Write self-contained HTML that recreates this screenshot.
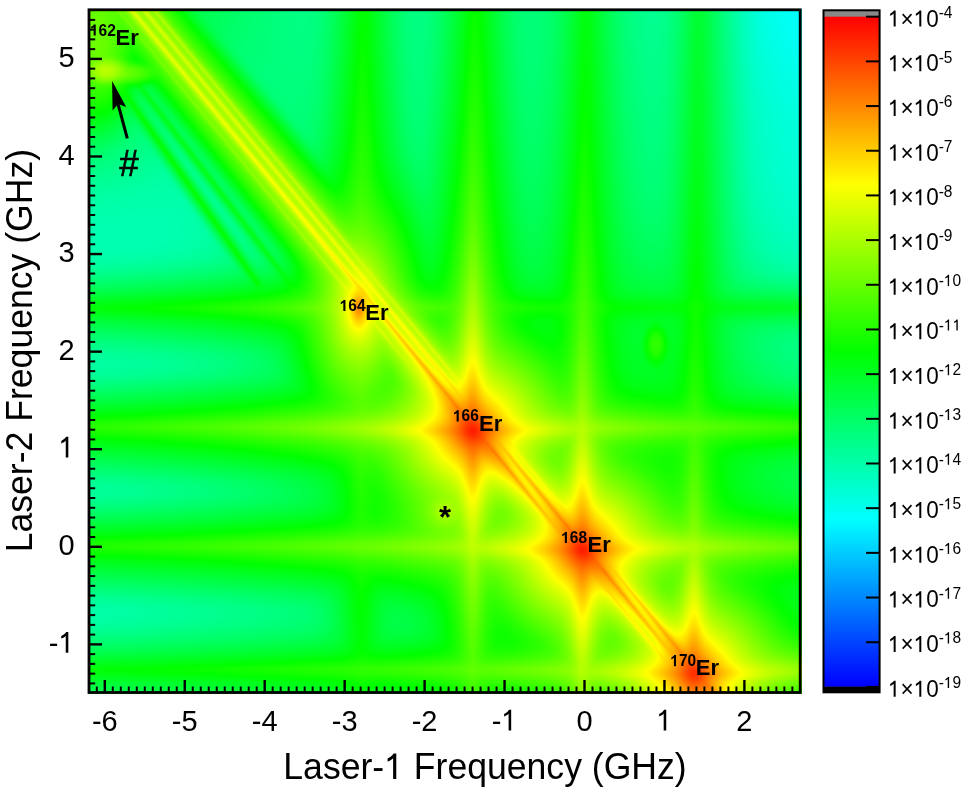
<!DOCTYPE html>
<html><head><meta charset="utf-8"><style>
html,body{margin:0;padding:0;background:#fff;width:968px;height:792px;overflow:hidden}
#hm{position:absolute;left:88px;top:9px;}
#fb{position:absolute;left:88px;top:9px;width:714px;height:685px;background:radial-gradient(circle at 385px 422px,#ff3000 0,#ff9000 18px,#ffff00 40px,rgba(160,255,0,0) 70px),radial-gradient(circle at 494px 541px,#ff3000 0,#ff9000 18px,#ffff00 40px,rgba(160,255,0,0) 70px),radial-gradient(circle at 606px 664px,#ff3000 0,#ff9000 16px,#ffff00 36px,rgba(160,255,0,0) 60px),radial-gradient(circle at 273px 302px,#ffa000 0,#ffff00 14px,rgba(160,255,0,0) 40px),linear-gradient(50deg,rgba(255,255,0,0) 46.5%,#ffd000 48.5%,rgba(255,255,0,0) 50.5%),radial-gradient(circle at 714px 0,#00ffff 0,rgba(0,255,160,0) 260px),radial-gradient(circle at 450px 560px,#80ff00 0,rgba(0,255,64,0) 300px),#00ff70;}
svg{position:absolute;left:0;top:0}
text{font-family:"Liberation Sans",sans-serif;fill:#000}
</style></head><body>
<div id="fb"></div><canvas id="hm" width="714" height="685"></canvas>
<svg width="968" height="792" viewBox="0 0 968 792">
<defs><linearGradient id="cbg" x1="0" y1="1" x2="0" y2="0">
<stop offset="0" stop-color="#0000ff"/><stop offset="0.25" stop-color="#00ffff"/><stop offset="0.5" stop-color="#00ff00"/><stop offset="0.75" stop-color="#ffff00"/><stop offset="1" stop-color="#ff0000"/>
</linearGradient></defs>
<rect x="823.5" y="11" width="56" height="6" fill="#888"/>
<rect x="823.5" y="16.7" width="56" height="670.2" fill="url(#cbg)"/>
<rect x="823.5" y="686.6" width="56" height="5.8" fill="#000"/>
<g stroke="#000"><line x1="866" y1="16.70" x2="879" y2="16.70" stroke-width="2"/><line x1="866" y1="61.38" x2="879" y2="61.38" stroke-width="2"/><line x1="866" y1="106.06" x2="879" y2="106.06" stroke-width="2"/><line x1="866" y1="150.74" x2="879" y2="150.74" stroke-width="2"/><line x1="866" y1="195.42" x2="879" y2="195.42" stroke-width="2"/><line x1="866" y1="240.10" x2="879" y2="240.10" stroke-width="2"/><line x1="866" y1="284.78" x2="879" y2="284.78" stroke-width="2"/><line x1="866" y1="329.46" x2="879" y2="329.46" stroke-width="2"/><line x1="866" y1="374.14" x2="879" y2="374.14" stroke-width="2"/><line x1="866" y1="418.82" x2="879" y2="418.82" stroke-width="2"/><line x1="866" y1="463.50" x2="879" y2="463.50" stroke-width="2"/><line x1="866" y1="508.18" x2="879" y2="508.18" stroke-width="2"/><line x1="866" y1="552.86" x2="879" y2="552.86" stroke-width="2"/><line x1="866" y1="597.54" x2="879" y2="597.54" stroke-width="2"/><line x1="866" y1="642.22" x2="879" y2="642.22" stroke-width="2"/><line x1="866" y1="686.90" x2="879" y2="686.90" stroke-width="2"/></g>
<rect x="823.5" y="10.3" width="56.1" height="682" fill="none" stroke="#000" stroke-width="2"/>
<g stroke="#000" fill="none"><line x1="96.81" y1="691.5" x2="96.81" y2="686.50" stroke-width="2"/><line x1="104.80" y1="691.5" x2="104.80" y2="680.00" stroke-width="2.4"/><line x1="112.79" y1="691.5" x2="112.79" y2="686.50" stroke-width="2"/><line x1="120.79" y1="691.5" x2="120.79" y2="686.50" stroke-width="2"/><line x1="128.78" y1="691.5" x2="128.78" y2="686.50" stroke-width="2"/><line x1="136.78" y1="691.5" x2="136.78" y2="686.50" stroke-width="2"/><line x1="144.78" y1="691.5" x2="144.78" y2="686.50" stroke-width="2"/><line x1="152.77" y1="691.5" x2="152.77" y2="686.50" stroke-width="2"/><line x1="160.77" y1="691.5" x2="160.77" y2="686.50" stroke-width="2"/><line x1="168.76" y1="691.5" x2="168.76" y2="686.50" stroke-width="2"/><line x1="176.76" y1="691.5" x2="176.76" y2="686.50" stroke-width="2"/><line x1="184.75" y1="691.5" x2="184.75" y2="680.00" stroke-width="2.4"/><line x1="192.74" y1="691.5" x2="192.74" y2="686.50" stroke-width="2"/><line x1="200.74" y1="691.5" x2="200.74" y2="686.50" stroke-width="2"/><line x1="208.73" y1="691.5" x2="208.73" y2="686.50" stroke-width="2"/><line x1="216.73" y1="691.5" x2="216.73" y2="686.50" stroke-width="2"/><line x1="224.73" y1="691.5" x2="224.73" y2="686.50" stroke-width="2"/><line x1="232.72" y1="691.5" x2="232.72" y2="686.50" stroke-width="2"/><line x1="240.72" y1="691.5" x2="240.72" y2="686.50" stroke-width="2"/><line x1="248.71" y1="691.5" x2="248.71" y2="686.50" stroke-width="2"/><line x1="256.71" y1="691.5" x2="256.71" y2="686.50" stroke-width="2"/><line x1="264.70" y1="691.5" x2="264.70" y2="680.00" stroke-width="2.4"/><line x1="272.69" y1="691.5" x2="272.69" y2="686.50" stroke-width="2"/><line x1="280.69" y1="691.5" x2="280.69" y2="686.50" stroke-width="2"/><line x1="288.69" y1="691.5" x2="288.69" y2="686.50" stroke-width="2"/><line x1="296.68" y1="691.5" x2="296.68" y2="686.50" stroke-width="2"/><line x1="304.68" y1="691.5" x2="304.68" y2="686.50" stroke-width="2"/><line x1="312.67" y1="691.5" x2="312.67" y2="686.50" stroke-width="2"/><line x1="320.67" y1="691.5" x2="320.67" y2="686.50" stroke-width="2"/><line x1="328.66" y1="691.5" x2="328.66" y2="686.50" stroke-width="2"/><line x1="336.65" y1="691.5" x2="336.65" y2="686.50" stroke-width="2"/><line x1="344.65" y1="691.5" x2="344.65" y2="680.00" stroke-width="2.4"/><line x1="352.65" y1="691.5" x2="352.65" y2="686.50" stroke-width="2"/><line x1="360.64" y1="691.5" x2="360.64" y2="686.50" stroke-width="2"/><line x1="368.63" y1="691.5" x2="368.63" y2="686.50" stroke-width="2"/><line x1="376.63" y1="691.5" x2="376.63" y2="686.50" stroke-width="2"/><line x1="384.62" y1="691.5" x2="384.62" y2="686.50" stroke-width="2"/><line x1="392.62" y1="691.5" x2="392.62" y2="686.50" stroke-width="2"/><line x1="400.62" y1="691.5" x2="400.62" y2="686.50" stroke-width="2"/><line x1="408.61" y1="691.5" x2="408.61" y2="686.50" stroke-width="2"/><line x1="416.61" y1="691.5" x2="416.61" y2="686.50" stroke-width="2"/><line x1="424.60" y1="691.5" x2="424.60" y2="680.00" stroke-width="2.4"/><line x1="432.59" y1="691.5" x2="432.59" y2="686.50" stroke-width="2"/><line x1="440.59" y1="691.5" x2="440.59" y2="686.50" stroke-width="2"/><line x1="448.59" y1="691.5" x2="448.59" y2="686.50" stroke-width="2"/><line x1="456.58" y1="691.5" x2="456.58" y2="686.50" stroke-width="2"/><line x1="464.58" y1="691.5" x2="464.58" y2="686.50" stroke-width="2"/><line x1="472.57" y1="691.5" x2="472.57" y2="686.50" stroke-width="2"/><line x1="480.57" y1="691.5" x2="480.57" y2="686.50" stroke-width="2"/><line x1="488.56" y1="691.5" x2="488.56" y2="686.50" stroke-width="2"/><line x1="496.56" y1="691.5" x2="496.56" y2="686.50" stroke-width="2"/><line x1="504.55" y1="691.5" x2="504.55" y2="680.00" stroke-width="2.4"/><line x1="512.54" y1="691.5" x2="512.54" y2="686.50" stroke-width="2"/><line x1="520.54" y1="691.5" x2="520.54" y2="686.50" stroke-width="2"/><line x1="528.53" y1="691.5" x2="528.53" y2="686.50" stroke-width="2"/><line x1="536.53" y1="691.5" x2="536.53" y2="686.50" stroke-width="2"/><line x1="544.52" y1="691.5" x2="544.52" y2="686.50" stroke-width="2"/><line x1="552.52" y1="691.5" x2="552.52" y2="686.50" stroke-width="2"/><line x1="560.51" y1="691.5" x2="560.51" y2="686.50" stroke-width="2"/><line x1="568.51" y1="691.5" x2="568.51" y2="686.50" stroke-width="2"/><line x1="576.50" y1="691.5" x2="576.50" y2="686.50" stroke-width="2"/><line x1="584.50" y1="691.5" x2="584.50" y2="680.00" stroke-width="2.4"/><line x1="592.50" y1="691.5" x2="592.50" y2="686.50" stroke-width="2"/><line x1="600.49" y1="691.5" x2="600.49" y2="686.50" stroke-width="2"/><line x1="608.49" y1="691.5" x2="608.49" y2="686.50" stroke-width="2"/><line x1="616.48" y1="691.5" x2="616.48" y2="686.50" stroke-width="2"/><line x1="624.48" y1="691.5" x2="624.48" y2="686.50" stroke-width="2"/><line x1="632.47" y1="691.5" x2="632.47" y2="686.50" stroke-width="2"/><line x1="640.47" y1="691.5" x2="640.47" y2="686.50" stroke-width="2"/><line x1="648.46" y1="691.5" x2="648.46" y2="686.50" stroke-width="2"/><line x1="656.46" y1="691.5" x2="656.46" y2="686.50" stroke-width="2"/><line x1="664.45" y1="691.5" x2="664.45" y2="680.00" stroke-width="2.4"/><line x1="672.44" y1="691.5" x2="672.44" y2="686.50" stroke-width="2"/><line x1="680.44" y1="691.5" x2="680.44" y2="686.50" stroke-width="2"/><line x1="688.43" y1="691.5" x2="688.43" y2="686.50" stroke-width="2"/><line x1="696.43" y1="691.5" x2="696.43" y2="686.50" stroke-width="2"/><line x1="704.42" y1="691.5" x2="704.42" y2="686.50" stroke-width="2"/><line x1="712.42" y1="691.5" x2="712.42" y2="686.50" stroke-width="2"/><line x1="720.41" y1="691.5" x2="720.41" y2="686.50" stroke-width="2"/><line x1="728.41" y1="691.5" x2="728.41" y2="686.50" stroke-width="2"/><line x1="736.40" y1="691.5" x2="736.40" y2="686.50" stroke-width="2"/><line x1="744.40" y1="691.5" x2="744.40" y2="680.00" stroke-width="2.4"/><line x1="752.39" y1="691.5" x2="752.39" y2="686.50" stroke-width="2"/><line x1="760.39" y1="691.5" x2="760.39" y2="686.50" stroke-width="2"/><line x1="768.38" y1="691.5" x2="768.38" y2="686.50" stroke-width="2"/><line x1="776.38" y1="691.5" x2="776.38" y2="686.50" stroke-width="2"/><line x1="784.38" y1="691.5" x2="784.38" y2="686.50" stroke-width="2"/><line x1="792.37" y1="691.5" x2="792.37" y2="686.50" stroke-width="2"/><line x1="90" y1="683.41" x2="95.20" y2="683.41" stroke-width="2"/><line x1="90" y1="673.65" x2="95.20" y2="673.65" stroke-width="2"/><line x1="90" y1="663.90" x2="95.20" y2="663.90" stroke-width="2"/><line x1="90" y1="654.14" x2="95.20" y2="654.14" stroke-width="2"/><line x1="90" y1="644.38" x2="102.00" y2="644.38" stroke-width="2.4"/><line x1="90" y1="634.62" x2="95.20" y2="634.62" stroke-width="2"/><line x1="90" y1="624.86" x2="95.20" y2="624.86" stroke-width="2"/><line x1="90" y1="615.11" x2="95.20" y2="615.11" stroke-width="2"/><line x1="90" y1="605.35" x2="95.20" y2="605.35" stroke-width="2"/><line x1="90" y1="595.59" x2="95.20" y2="595.59" stroke-width="2"/><line x1="90" y1="585.83" x2="95.20" y2="585.83" stroke-width="2"/><line x1="90" y1="576.07" x2="95.20" y2="576.07" stroke-width="2"/><line x1="90" y1="566.32" x2="95.20" y2="566.32" stroke-width="2"/><line x1="90" y1="556.56" x2="95.20" y2="556.56" stroke-width="2"/><line x1="90" y1="546.80" x2="102.00" y2="546.80" stroke-width="2.4"/><line x1="90" y1="537.04" x2="95.20" y2="537.04" stroke-width="2"/><line x1="90" y1="527.28" x2="95.20" y2="527.28" stroke-width="2"/><line x1="90" y1="517.53" x2="95.20" y2="517.53" stroke-width="2"/><line x1="90" y1="507.77" x2="95.20" y2="507.77" stroke-width="2"/><line x1="90" y1="498.01" x2="95.20" y2="498.01" stroke-width="2"/><line x1="90" y1="488.25" x2="95.20" y2="488.25" stroke-width="2"/><line x1="90" y1="478.49" x2="95.20" y2="478.49" stroke-width="2"/><line x1="90" y1="468.74" x2="95.20" y2="468.74" stroke-width="2"/><line x1="90" y1="458.98" x2="95.20" y2="458.98" stroke-width="2"/><line x1="90" y1="449.22" x2="102.00" y2="449.22" stroke-width="2.4"/><line x1="90" y1="439.46" x2="95.20" y2="439.46" stroke-width="2"/><line x1="90" y1="429.70" x2="95.20" y2="429.70" stroke-width="2"/><line x1="90" y1="419.95" x2="95.20" y2="419.95" stroke-width="2"/><line x1="90" y1="410.19" x2="95.20" y2="410.19" stroke-width="2"/><line x1="90" y1="400.43" x2="95.20" y2="400.43" stroke-width="2"/><line x1="90" y1="390.67" x2="95.20" y2="390.67" stroke-width="2"/><line x1="90" y1="380.91" x2="95.20" y2="380.91" stroke-width="2"/><line x1="90" y1="371.16" x2="95.20" y2="371.16" stroke-width="2"/><line x1="90" y1="361.40" x2="95.20" y2="361.40" stroke-width="2"/><line x1="90" y1="351.64" x2="102.00" y2="351.64" stroke-width="2.4"/><line x1="90" y1="341.88" x2="95.20" y2="341.88" stroke-width="2"/><line x1="90" y1="332.12" x2="95.20" y2="332.12" stroke-width="2"/><line x1="90" y1="322.37" x2="95.20" y2="322.37" stroke-width="2"/><line x1="90" y1="312.61" x2="95.20" y2="312.61" stroke-width="2"/><line x1="90" y1="302.85" x2="95.20" y2="302.85" stroke-width="2"/><line x1="90" y1="293.09" x2="95.20" y2="293.09" stroke-width="2"/><line x1="90" y1="283.33" x2="95.20" y2="283.33" stroke-width="2"/><line x1="90" y1="273.58" x2="95.20" y2="273.58" stroke-width="2"/><line x1="90" y1="263.82" x2="95.20" y2="263.82" stroke-width="2"/><line x1="90" y1="254.06" x2="102.00" y2="254.06" stroke-width="2.4"/><line x1="90" y1="244.30" x2="95.20" y2="244.30" stroke-width="2"/><line x1="90" y1="234.54" x2="95.20" y2="234.54" stroke-width="2"/><line x1="90" y1="224.79" x2="95.20" y2="224.79" stroke-width="2"/><line x1="90" y1="215.03" x2="95.20" y2="215.03" stroke-width="2"/><line x1="90" y1="205.27" x2="95.20" y2="205.27" stroke-width="2"/><line x1="90" y1="195.51" x2="95.20" y2="195.51" stroke-width="2"/><line x1="90" y1="185.75" x2="95.20" y2="185.75" stroke-width="2"/><line x1="90" y1="176.00" x2="95.20" y2="176.00" stroke-width="2"/><line x1="90" y1="166.24" x2="95.20" y2="166.24" stroke-width="2"/><line x1="90" y1="156.48" x2="102.00" y2="156.48" stroke-width="2.4"/><line x1="90" y1="146.72" x2="95.20" y2="146.72" stroke-width="2"/><line x1="90" y1="136.96" x2="95.20" y2="136.96" stroke-width="2"/><line x1="90" y1="127.21" x2="95.20" y2="127.21" stroke-width="2"/><line x1="90" y1="117.45" x2="95.20" y2="117.45" stroke-width="2"/><line x1="90" y1="107.69" x2="95.20" y2="107.69" stroke-width="2"/><line x1="90" y1="97.93" x2="95.20" y2="97.93" stroke-width="2"/><line x1="90" y1="88.17" x2="95.20" y2="88.17" stroke-width="2"/><line x1="90" y1="78.42" x2="95.20" y2="78.42" stroke-width="2"/><line x1="90" y1="68.66" x2="95.20" y2="68.66" stroke-width="2"/><line x1="90" y1="58.90" x2="102.00" y2="58.90" stroke-width="2.4"/><line x1="90" y1="49.14" x2="95.20" y2="49.14" stroke-width="2"/><line x1="90" y1="39.38" x2="95.20" y2="39.38" stroke-width="2"/><line x1="90" y1="29.63" x2="95.20" y2="29.63" stroke-width="2"/><line x1="90" y1="19.87" x2="95.20" y2="19.87" stroke-width="2"/></g>
<rect x="89" y="9.8" width="711.2" height="682.7" fill="none" stroke="#000" stroke-width="2.8"/>
<text x="888" y="26.60" font-size="22.5" transform="matrix(1 0 0 1.04 0 -1.064)"><tspan class="o">1</tspan>×<tspan class="o">1</tspan>0<tspan font-size="15.5" dy="-8.4">-4</tspan></text><text x="888" y="71.28" font-size="22.5" transform="matrix(1 0 0 1.04 0 -2.851)"><tspan class="o">1</tspan>×<tspan class="o">1</tspan>0<tspan font-size="15.5" dy="-8.4">-5</tspan></text><text x="888" y="115.96" font-size="22.5" transform="matrix(1 0 0 1.04 0 -4.638)"><tspan class="o">1</tspan>×<tspan class="o">1</tspan>0<tspan font-size="15.5" dy="-8.4">-6</tspan></text><text x="888" y="160.64" font-size="22.5" transform="matrix(1 0 0 1.04 0 -6.426)"><tspan class="o">1</tspan>×<tspan class="o">1</tspan>0<tspan font-size="15.5" dy="-8.4">-7</tspan></text><text x="888" y="205.32" font-size="22.5" transform="matrix(1 0 0 1.04 0 -8.213)"><tspan class="o">1</tspan>×<tspan class="o">1</tspan>0<tspan font-size="15.5" dy="-8.4">-8</tspan></text><text x="888" y="250.00" font-size="22.5" transform="matrix(1 0 0 1.04 0 -10.000)"><tspan class="o">1</tspan>×<tspan class="o">1</tspan>0<tspan font-size="15.5" dy="-8.4">-9</tspan></text><text x="888" y="294.68" font-size="22.5" transform="matrix(1 0 0 1.04 0 -11.787)"><tspan class="o">1</tspan>×<tspan class="o">1</tspan>0<tspan font-size="15.5" dy="-8.4">-<tspan class="o">1</tspan>0</tspan></text><text x="888" y="339.36" font-size="22.5" transform="matrix(1 0 0 1.04 0 -13.574)"><tspan class="o">1</tspan>×<tspan class="o">1</tspan>0<tspan font-size="15.5" dy="-8.4">-<tspan class="o">1</tspan><tspan class="o">1</tspan></tspan></text><text x="888" y="384.04" font-size="22.5" transform="matrix(1 0 0 1.04 0 -15.362)"><tspan class="o">1</tspan>×<tspan class="o">1</tspan>0<tspan font-size="15.5" dy="-8.4">-<tspan class="o">1</tspan>2</tspan></text><text x="888" y="428.72" font-size="22.5" transform="matrix(1 0 0 1.04 0 -17.149)"><tspan class="o">1</tspan>×<tspan class="o">1</tspan>0<tspan font-size="15.5" dy="-8.4">-<tspan class="o">1</tspan>3</tspan></text><text x="888" y="473.40" font-size="22.5" transform="matrix(1 0 0 1.04 0 -18.936)"><tspan class="o">1</tspan>×<tspan class="o">1</tspan>0<tspan font-size="15.5" dy="-8.4">-<tspan class="o">1</tspan>4</tspan></text><text x="888" y="518.08" font-size="22.5" transform="matrix(1 0 0 1.04 0 -20.723)"><tspan class="o">1</tspan>×<tspan class="o">1</tspan>0<tspan font-size="15.5" dy="-8.4">-<tspan class="o">1</tspan>5</tspan></text><text x="888" y="562.76" font-size="22.5" transform="matrix(1 0 0 1.04 0 -22.510)"><tspan class="o">1</tspan>×<tspan class="o">1</tspan>0<tspan font-size="15.5" dy="-8.4">-<tspan class="o">1</tspan>6</tspan></text><text x="888" y="607.44" font-size="22.5" transform="matrix(1 0 0 1.04 0 -24.298)"><tspan class="o">1</tspan>×<tspan class="o">1</tspan>0<tspan font-size="15.5" dy="-8.4">-<tspan class="o">1</tspan>7</tspan></text><text x="888" y="652.12" font-size="22.5" transform="matrix(1 0 0 1.04 0 -26.085)"><tspan class="o">1</tspan>×<tspan class="o">1</tspan>0<tspan font-size="15.5" dy="-8.4">-<tspan class="o">1</tspan>8</tspan></text><text x="888" y="696.80" font-size="22.5" transform="matrix(1 0 0 1.04 0 -27.872)"><tspan class="o">1</tspan>×<tspan class="o">1</tspan>0<tspan font-size="15.5" dy="-8.4">-<tspan class="o">1</tspan>9</tspan></text>
<text x="104.80" y="730.6" font-size="29" text-anchor="middle" transform="matrix(1 0 0 1.04 0 -29.224)">-6</text><text x="184.75" y="730.6" font-size="29" text-anchor="middle" transform="matrix(1 0 0 1.04 0 -29.224)">-5</text><text x="264.70" y="730.6" font-size="29" text-anchor="middle" transform="matrix(1 0 0 1.04 0 -29.224)">-4</text><text x="344.65" y="730.6" font-size="29" text-anchor="middle" transform="matrix(1 0 0 1.04 0 -29.224)">-3</text><text x="424.60" y="730.6" font-size="29" text-anchor="middle" transform="matrix(1 0 0 1.04 0 -29.224)">-2</text><text x="504.55" y="730.6" font-size="29" text-anchor="middle" transform="matrix(1 0 0 1.04 0 -29.224)">-<tspan class="o">1</tspan></text><text x="584.50" y="730.6" font-size="29" text-anchor="middle" transform="matrix(1 0 0 1.04 0 -29.224)">0</text><text x="664.45" y="730.6" font-size="29" text-anchor="middle" transform="matrix(1 0 0 1.04 0 -29.224)"><tspan class="o">1</tspan></text><text x="744.40" y="730.6" font-size="29" text-anchor="middle" transform="matrix(1 0 0 1.04 0 -29.224)">2</text>
<text x="74.6" y="652.68" font-size="29" text-anchor="end" transform="matrix(1 0 0 1.04 0 -26.107)">-<tspan class="o">1</tspan></text><text x="74.6" y="555.10" font-size="29" text-anchor="end" transform="matrix(1 0 0 1.04 0 -22.204)">0</text><text x="74.6" y="457.52" font-size="29" text-anchor="end" transform="matrix(1 0 0 1.04 0 -18.301)"><tspan class="o">1</tspan></text><text x="74.6" y="359.94" font-size="29" text-anchor="end" transform="matrix(1 0 0 1.04 0 -14.398)">2</text><text x="74.6" y="262.36" font-size="29" text-anchor="end" transform="matrix(1 0 0 1.04 0 -10.494)">3</text><text x="74.6" y="164.78" font-size="29" text-anchor="end" transform="matrix(1 0 0 1.04 0 -6.591)">4</text><text x="74.6" y="67.20" font-size="29" text-anchor="end" transform="matrix(1 0 0 1.04 0 -2.688)">5</text>
<text x="485" y="778.9" font-size="35.6" text-anchor="middle" transform="matrix(1 0 0 1.04 0 -31.156)">Laser-<tspan class="o">1</tspan> Frequency (GHz)</text>
<text transform="translate(31.8 350.6) rotate(-90) scale(1 1.04)" x="0" y="0" font-size="35.6" text-anchor="middle">Laser-2 Frequency (GHz)</text>
<text x="90.0" y="35.6" font-size="15.5" font-weight="bold" transform="matrix(1 0 0 1.04 0 -1.424)"><tspan class="o">1</tspan>62</text><text x="115.5" y="44.6" font-size="22" font-weight="bold" transform="matrix(1 0 0 1.04 0 -1.784)">Er</text><text x="339.7" y="311.0" font-size="15.5" font-weight="bold" transform="matrix(1 0 0 1.04 0 -12.440)"><tspan class="o">1</tspan>64</text><text x="365.3" y="320.5" font-size="22" font-weight="bold" transform="matrix(1 0 0 1.04 0 -12.820)">Er</text><text x="453.0" y="421.4" font-size="15.5" font-weight="bold" transform="matrix(1 0 0 1.04 0 -16.856)"><tspan class="o">1</tspan>66</text><text x="479.1" y="430.7" font-size="22" font-weight="bold" transform="matrix(1 0 0 1.04 0 -17.228)">Er</text><text x="561.2" y="543.1" font-size="15.5" font-weight="bold" transform="matrix(1 0 0 1.04 0 -21.724)"><tspan class="o">1</tspan>68</text><text x="587.6" y="551.8" font-size="22" font-weight="bold" transform="matrix(1 0 0 1.04 0 -22.072)">Er</text><text x="670.3" y="666.2" font-size="15.5" font-weight="bold" transform="matrix(1 0 0 1.04 0 -26.648)"><tspan class="o">1</tspan>70</text><text x="695.8" y="675.5" font-size="22" font-weight="bold" transform="matrix(1 0 0 1.04 0 -27.020)">Er</text>
<text x="119.2" y="175.6" font-size="35" transform="translate(0 -10.8) scale(1 1.065)" stroke="#000" stroke-width="0.6">#</text>
<text x="439" y="528" font-size="31" font-weight="bold" transform="matrix(1 0 0 1.04 0 -21.120)">*</text>
<polygon points="112.1,80.9 112.6,110.5 118.2,104 126.2,107" fill="#000"/>
<line x1="117.5" y1="102" x2="127.3" y2="138.3" stroke="#000" stroke-width="3"/>
</svg>
<script>
(function(){
var c=document.getElementById('hm'),ctx=c.getContext('2d');
var W=c.width,H=c.height,img=ctx.createImageData(W,H),d=img.data;
var OX=88,OY=9,LN10=Math.LN10;
function cmap(v,out){
  var t=(v+19)/15,r,g,b,s;
  if(t<0){r=0;g=0;b=0;} else if(t>1){r=255;g=0;b=0;}
  else if(t<0.25){s=t/0.25;r=0;g=255*s;b=255;}
  else if(t<0.5){s=(t-0.25)/0.25;r=0;g=255;b=255*(1-s);}
  else if(t<0.75){s=(t-0.5)/0.25;r=255*s;g=255;b=0;}
  else {s=(t-0.75)/0.25;r=255;g=255*(1-s);b=0;}
  out[0]=r;out[1]=g;out[2]=b;
}
// background grid (log10) Catmull-Rom
var GX=[90,190,290,390,490,590,690,800], GY=[10,110,210,310,410,510,610,692];
var G=[
 [-12.0,-12.6,-13.4,-13.5,-13.4,-13.3,-14.0,-15.2],
 [-12.6,-13.4,-13.3,-13.4,-13.3,-13.1,-13.8,-14.8],
 [-14.0,-14.0,-13.2,-13.1,-13.0,-12.8,-13.5,-14.5],
 [-14.0,-13.8,-12.9,-12.2,-12.3,-12.3,-12.6,-13.8],
 [-14.0,-13.7,-12.9,-12.1,-11.4,-11.8,-12.0,-13.0],
 [-14.0,-13.6,-12.9,-12.0,-11.1,-11.0,-11.4,-12.4],
 [-14.1,-13.8,-13.4,-12.9,-11.9,-11.2,-11.1,-12.0],
 [-13.2,-13.0,-12.7,-12.3,-11.8,-11.4,-10.9,-11.6]
];
function cr(p0,p1,p2,p3,t){var t2=t*t,t3=t2*t;return 0.5*((2*p1)+(-p0+p2)*t+(2*p0-5*p1+4*p2-p3)*t2+(-p0+3*p1-3*p2+p3)*t3);}
function seg(arr,v){var i=0;while(i<arr.length-2&&v>arr[i+1])i++;var t=(v-arr[i])/(arr[i+1]-arr[i]);return [i,Math.max(0,Math.min(1,t))];}
function gget(j,i){j=Math.max(0,Math.min(GY.length-1,j));i=Math.max(0,Math.min(GX.length-1,i));return G[j][i];}
function bg(X,Y){
  var sx=seg(GX,X),sy=seg(GY,Y),i=sx[0],tx=sx[1],j=sy[0],ty=sy[1],r=[];
  for(var m=-1;m<=2;m++){r.push(cr(gget(j+m,i-1),gget(j+m,i),gget(j+m,i+1),gget(j+m,i+2),tx));}
  return cr(r[0],r[1],r[2],r[3],ty);
}
function lg1(z,w){var q=z/w;return Math.log(1+q*q)/LN10;}
function lgr(r){r=Math.abs(r);return Math.log(Math.max(r,30)/100)/LN10;}
// isotopes
var iso=[
 {cx:361,cy:311.5,a:-9.5,v100:-10.6,h100:-10.8,d100:-9.2,vk:2.0,hk:2.0,dk:1.5},
 {cx:472.7,cy:430.8,a:-4.6,v100:-9.6,h100:-9.2,d100:-6.9,vk:3.0,hk:3.0,dk:1.8},
 {cx:582.5,cy:550,a:-4.6,v100:-9.6,h100:-9.0,d100:-6.9,vk:3.0,hk:3.0,dk:1.8},
 {cx:694,cy:673.5,a:-4.85,v100:-9.8,h100:-9.3,d100:-7.2,vk:3.0,hk:3.0,dk:1.9}
];
var SL=1.235, SN=Math.sqrt(1+SL*SL), LSL=1.22, LSN=Math.sqrt(1+LSL*LSL), LOX=4;
var VS=10, HS=7, HSP=4, BQ=1.0, BC=22, VT=0.0075; // band lorentz width px, power, gaussian cutoff
var SVL=30.2,SHL=21.9,SDL=28,SQ=3,SS=8,AQ=2,AC=18,ARM=-0.8,CQ=2.5,CW=9.9,CG=40; // star
var DW=1.3,DC=5,DS=10,DH=2.0;  // line core/halo
// extra blobs: [cx,cy,peak,sx,sy]
var blobs=[
 [106,70.6,-8.8,7.5,4.8],
 [122,73,-10.0,14,4.5],
 [96,36,-9.9,14,28],
 [656,345,-10.8,5,8.5]
];
// lorentzian blobs: [cx,cy,peak,wx,wy,q]
var lblobs=[[359,308,-6.0,4.3,8.6,2],[445,511,-8.8,7,7,1.2]];
// extra line segments: [x0,y0,x1,y1,peak,width(lorentz),halo sigma]
var segs=[
 [110,72,258,284,-11.6,2.0,5],
 [132,76,296,292,-11.9,2.0,5]
];
function segd(X,Y,s){var vx=s[2]-s[0],vy=s[3]-s[1],L2=vx*vx+vy*vy;var t=((X-s[0])*vx+(Y-s[1])*vy)/L2;var tc=Math.max(0,Math.min(1,t));var px=s[0]+tc*vx-X,py=s[1]+tc*vy-Y;return Math.sqrt(px*px+py*py);}
var col=[0,0,0];
for(var j=0;j<H;j++){for(var i=0;i<W;i++){
  var X=OX+i+0.5,Y=OY+j+0.5;
  var S=Math.pow(10,bg(X,Y));
  for(var n=0;n<iso.length;n++){
    var p=iso[n];
    var du=X-p.cx, dv=Y-p.cy;
    var dp=(dv-SL*du)/SN, da=(du+SL*dv)/SN;
    var e=0;
    // bands
    var duv=du-(dv<0?-VT*dv:0);
    if(duv>-100&&duv<100) e+=Math.pow(10,p.v100-p.vk*lgr(dv)-BQ*lg1(duv,VS)-duv*duv/(2*BC*BC*LN10));
    var dvh=dv+HSP;
    if(dvh>-100&&dvh<100) e+=Math.pow(10,p.h100-p.hk*lgr(du)-dv*dv/(2*BC*BC*LN10)-BQ*lg1(dvh,HS));
    // line
    var dul=du-LOX, dpl=(dv-LSL*dul)/LSN;
    if(dpl>-50&&dpl<50){
      var dal=(dul+LSL*dv)/LSN;
      var ld=p.d100-p.dk*lgr(dal);
      e+=Math.pow(10,ld-lg1(dpl,DW)-dpl*dpl/(2*DC*DC*LN10));
      e+=Math.pow(10,ld-DH-dpl*dpl/(2*DS*DS*LN10));
    }
    // star
    var aa=p.a+ARM;
    var r2=du*du+dv*dv;
    if(r2<40000) e+=Math.pow(10,p.a-CQ*lg1(Math.sqrt(r2),CW)-r2/(2*CG*CG*LN10));
    if(du>-80&&du<80) e+=Math.pow(10,aa-SQ*lg1(dv,SVL)-AQ*lg1(du,SS)-du*du/(2*AC*AC*LN10));
    if(dv>-80&&dv<80) e+=Math.pow(10,aa-SQ*lg1(du,SHL)-AQ*lg1(dv,SS)-dv*dv/(2*AC*AC*LN10));
    if(dp>-80&&dp<80) e+=Math.pow(10,aa-SQ*lg1(da,SDL)-AQ*lg1(dp,SS)-dp*dp/(2*AC*AC*LN10));
    S+=e;
  }
  for(var b=0;b<blobs.length;b++){var q=blobs[b],ex=(X-q[0])/q[3],ey=(Y-q[1])/q[4];S+=Math.pow(10,q[2]-(ex*ex+ey*ey)/(2*LN10));}
  for(var b=0;b<lblobs.length;b++){var q=lblobs[b],ex=(X-q[0])/q[3],ey=(Y-q[1])/q[4],e2=ex*ex+ey*ey;S+=Math.pow(10,q[2]-q[5]*Math.log(1+e2)/LN10-e2/200);}
  for(var b=0;b<segs.length;b++){var q=segs[b],dd=segd(X,Y,q);S+=Math.pow(10,q[4]-lg1(dd,q[5])-dd*dd/(2*q[6]*q[6]*LN10));}
  cmap(Math.log(S)/LN10,col);
  var k=(j*W+i)*4;d[k]=col[0];d[k+1]=col[1];d[k+2]=col[2];d[k+3]=255;
}}
ctx.putImageData(img,0,0);
})();

</script>
<script>
(function(){
var NS=document.querySelector('svg').namespaceURI;
var ONE_R='M696 0L515 0L515 1140Q440 1075 340 1020Q260 980 197 960L197 1130Q330 1190 420 1270Q500 1340 545 1409L696 1409Z';
var ONE_B='M759 0L478 0L478 1060Q380 980 260 930Q190 905 140 895L140 1120Q290 1175 390 1260Q460 1320 500 1409L759 1409Z';
var texts=document.querySelectorAll('svg text');
for(var q=0;q<texts.length;q++){
  var t=texts[q],idx=0,items=[];
  (function walk(node){
    if(node.nodeType===3){var s=node.nodeValue;var el=node.parentNode;
      if(el.getAttribute&&el.getAttribute('class')==='o'){var cs=getComputedStyle(el);
        for(var k=0;k<s.length;k++){if(s[k]==='1')items.push({i:idx+k,fs:parseFloat(cs.fontSize),b:parseInt(cs.fontWeight,10)>=600,el:el});}}
      idx+=s.length;}
    else{for(var c=0;c<node.childNodes.length;c++)walk(node.childNodes[c]);}
  })(t);
  for(var m=0;m<items.length;m++){
    var it=items[m],p;
    try{p=t.getStartPositionOfChar(it.i);}catch(e){continue;}
    var path=document.createElementNS(NS,'path');
    var sc=it.fs/2048;
    var tr=t.getAttribute('transform')||'';
    path.setAttribute('d',it.b?ONE_B:ONE_R);
    path.setAttribute('transform',tr+' translate('+p.x+' '+p.y+') scale('+sc+' '+(-sc)+')');
    path.setAttribute('fill','#000');
    t.parentNode.insertBefore(path,t.nextSibling);
    it.el.style.fillOpacity='0';
  }
}
})();

</script>
</body></html>
